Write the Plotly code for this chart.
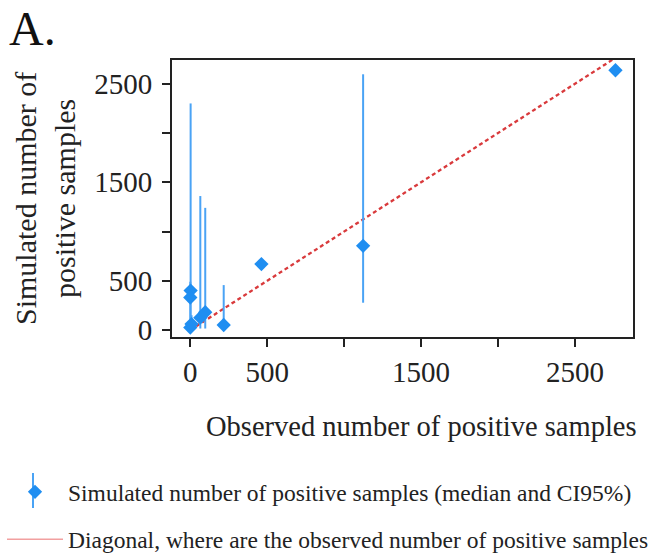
import plotly.graph_objects as go

# Data
observed = [0, 8, 2, 0, 65, 97, 217, 462, 1123, 2763]
simulated_median = [25, 60, 400, 330, 125, 180, 51, 669, 855, 2637]
ci_low = [5, 15, 30, 60, 15, 15, 20, 640, 277, 2610]
ci_high = [70, 150, 2300, 490, 1360, 1240, 456, 700, 2596, 2665]
diag = [0, 2900]

tick_vals = [0, 500, 1000, 1500, 2000, 2500]
tick_text = ["0", "500", "", "1500", "", "2500"]

FONT = "Liberation Serif"
BLUE = "#1f8ef1"
BAR_BLUE = "#4aa3f5"
RED = "#d93a3c"

W, H = 654, 558
L, R, T, B = 172, 21, 60, 221

err_plus = [h - m for h, m in zip(ci_high, simulated_median)]
err_minus = [m - l for m, l in zip(simulated_median, ci_low)]

fig = go.Figure()

fig.add_trace(go.Scatter(
    x=diag, y=diag, mode="lines",
    line=dict(color=RED, width=2.3, dash="4px,3px"),
    showlegend=False, hoverinfo="skip",
))

fig.add_trace(go.Scatter(
    x=observed, y=simulated_median, mode="markers",
    marker=dict(symbol="diamond", size=11, color=BLUE),
    error_y=dict(type="data", symmetric=False, array=err_plus, arrayminus=err_minus,
                 color=BAR_BLUE, thickness=2, width=0),
    name="Simulated number of positive samples (median and CI95%)",
    legendgroup="a",
))

fig.add_trace(go.Scatter(
    x=[None], y=[None], mode="lines",
    line=dict(color="#f2a0a0", width=1.5),
    name="Diagonal, where are the observed number of positive samples",
    legendgroup="b",
))

pw = W - L - R
ph = H - T - B


def px_x(p):
    return (p - L) / pw


def px_y(p):
    return (H - B - p) / ph


fig.update_layout(
    width=W, height=H,
    margin=dict(l=L, r=R, t=T, b=B, autoexpand=False),
    paper_bgcolor="white", plot_bgcolor="white",
    font=dict(family=FONT, color="#222222", size=27),
    showlegend=True,
    legend=dict(
        xref="container", yref="container",
        x=2 / W, y=1 - 470 / H, xanchor="left", yanchor="top",
        font=dict(size=23.5, family=FONT, color="#222222"),
        tracegroupgap=14, bgcolor="rgba(0,0,0,0)", itemwidth=56,
    ),
    shapes=[dict(
        type="line", xref="paper", yref="paper",
        x0=px_x(33), x1=px_x(33), y0=px_y(473), y1=px_y(508),
        line=dict(color=BAR_BLUE, width=2),
    )],
)
fig.add_annotation(text="A.", xref="paper", yref="paper",
                   x=px_x(7), y=px_y(0), xanchor="left", yanchor="top",
                   showarrow=False, font=dict(size=48, family=FONT, color="#111111"))
fig.add_annotation(text="Observed number of positive samples", xref="paper", yref="paper",
                   x=px_x(421), y=px_y(426), xanchor="center", yanchor="middle",
                   showarrow=False, font=dict(size=28.5, family=FONT, color="#222222"))
fig.add_annotation(text="Simulated number of<br>positive samples", xref="paper", yref="paper",
                   x=px_x(45), y=px_y(199), xanchor="center", yanchor="middle", textangle=-90,
                   showarrow=False, font=dict(size=30, family=FONT, color="#222222"))

fig.update_xaxes(
    range=[-119, 2877], tickvals=tick_vals, ticktext=tick_text,
    showgrid=False, zeroline=False, automargin=False,
    showline=True, linecolor="#222222", linewidth=2, mirror=True,
    ticks="outside", ticklen=8, tickwidth=2, tickcolor="#222222",
    tickfont=dict(size=29, family=FONT), ticklabelstandoff=0,
)
fig.update_yaxes(
    range=[-71, 2741], tickvals=tick_vals, ticktext=tick_text,
    showgrid=False, zeroline=False, automargin=False,
    showline=True, linecolor="#222222", linewidth=2, mirror=True,
    ticks="outside", ticklen=8, tickwidth=2, tickcolor="#222222",
    tickfont=dict(size=29, family=FONT), ticklabelstandoff=4,
)

fig.write_html("out.html")
